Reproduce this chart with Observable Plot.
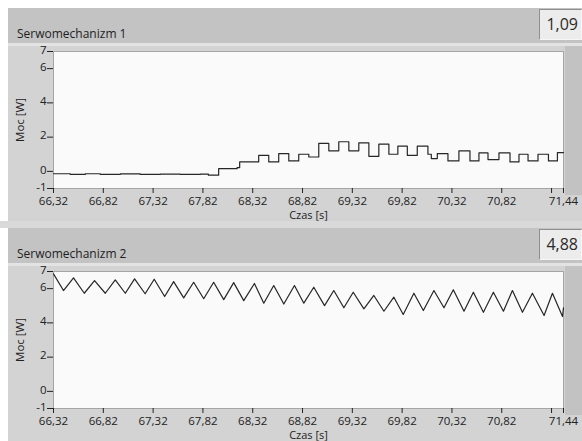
<!DOCTYPE html>
<html>
<head>
<meta charset="utf-8">
<script src="https://cdn.jsdelivr.net/npm/d3@7"></script>
<script src="https://cdn.jsdelivr.net/npm/@observablehq/plot@0.6"></script>
<style>
  html, body { margin: 0; padding: 0; background: #ffffff; }
  body { width: 582px; height: 441px; overflow: hidden; position: relative;
         font-family: "Segoe UI", "Open Sans", "Noto Sans", sans-serif; color: #222; }
  .gap { position: absolute; left: 0; width: 582px; background: #d9d9d9; }
  .panel { position: absolute; left: 8px; width: 574px; background: #d3d3d3; }
  .head { position: relative; height: 35px; background: #c3c3c3; }
  .title { position: absolute; left: 9px; bottom: 1px; font-size: 12px; color: #1e1e1e; }
  .val { position: absolute; right: 0; top: 1px; width: 43px; height: 31px; box-sizing: border-box;
         background: #ececec; border-top: 1px solid #8f8f8f; border-left: 1px solid #8f8f8f;
         border-right: 1px solid #f6f6f6; border-bottom: 1px solid #f6f6f6;
         font-size: 16px; line-height: 29px; text-align: right; padding-right: 3px; color: #2a2a2a; }
  .sep { height: 3px; background: #e3e3e3; }
  .body { position: relative; height: 175px; }
  .rbar { position: absolute; right: 0; top: 0; width: 17px; height: 149px; background: #c2c2c2; }
  .body svg { position: absolute; left: 0; top: 0; overflow: visible; }
</style>
</head>
<body>
<div id="root"></div>
<script>
// Time axis ticks (seconds) and their printed labels (decimal comma)
const xTicks = [66.32, 66.82, 67.32, 67.82, 68.32, 68.82, 69.32, 69.82, 70.32, 70.82, 71.32, 71.44];
const xTickLabels = ["66,32", "66,82", "67,32", "67,82", "68,32", "68,82", "69,32", "69,82", "70,32", "70,82", "", "71,44"];
const yTicks = [-1, 0, 2, 4, 6, 7];
const xDomain = [66.32, 71.44];
const yDomain = [-1, 7];

const panelTitles = ["Serwomechanizm 1", "Serwomechanizm 2"];

// Servo 1 power: stepped samples (value holds until the next time stamp)
const servo1Time = [66.320, 66.488, 66.639, 66.789, 66.991, 67.191, 67.392, 67.593, 67.794, 67.875,
  67.978, 68.163, 68.189, 68.380, 68.481, 68.581, 68.682, 68.782, 68.883, 68.983,
  69.084, 69.184, 69.285, 69.385, 69.486, 69.586, 69.687, 69.777, 69.872, 69.972,
  70.079, 70.113, 70.173, 70.280, 70.390, 70.501, 70.591, 70.682, 70.792, 70.903,
  70.993, 71.084, 71.184, 71.289, 71.379, 71.440];
const servo1Power = [-0.14, -0.18, -0.14, -0.17, -0.15, -0.18, -0.16, -0.18, -0.16, -0.22,
  0.16, 0.22, 0.55, 0.94, 0.55, 1.04, 0.61, 1.00, 0.84, 1.63,
  1.20, 1.73, 1.20, 1.67, 0.88, 1.59, 1.00, 1.47, 0.94, 1.47,
  1.00, 0.75, 1.04, 0.61, 1.20, 0.61, 1.08, 0.69, 1.08, 0.55,
  1.00, 0.61, 1.00, 0.61, 1.09, 1.09];

// Servo 2 power: oscillating signal, peaks and troughs
const servo2Time = [66.320, 66.420, 66.521, 66.629, 66.732, 66.840, 66.940, 67.041, 67.134, 67.240,
  67.331, 67.436, 67.526, 67.627, 67.727, 67.828, 67.928, 68.029, 68.129, 68.230,
  68.337, 68.431, 68.531, 68.632, 68.739, 68.833, 68.933, 69.041, 69.134, 69.235,
  69.329, 69.436, 69.536, 69.637, 69.737, 69.831, 69.938, 70.033, 70.139, 70.240,
  70.334, 70.441, 70.535, 70.636, 70.736, 70.837, 70.927, 71.028, 71.128, 71.245,
  71.329, 71.430, 71.440];
const servo2Power = [6.86, 5.89, 6.63, 5.73, 6.47, 5.73, 6.51, 5.73, 6.57, 5.70,
  6.55, 5.54, 6.41, 5.46, 6.37, 5.41, 6.37, 5.36, 6.35, 5.30,
  6.30, 5.15, 6.18, 5.10, 6.18, 5.15, 6.08, 5.01, 5.89, 4.88,
  5.79, 4.82, 5.60, 4.68, 5.50, 4.49, 5.73, 4.72, 5.89, 4.88,
  5.93, 4.68, 5.79, 4.62, 5.79, 4.68, 5.89, 4.62, 5.73, 4.43,
  5.73, 4.37, 4.88];

const fmtComma = v => v.toFixed(2).replace(".", ",");

function chart(time, power, curve) {
  const rows = time.map((t, i) => ({t, p: power[i]}));
  return Plot.plot({
    width: 574,
    height: 175,
    marginLeft: 45,
    marginRight: 19,
    marginTop: 5,
    marginBottom: 33,
    style: {background: "transparent", fontFamily: "'Segoe UI', 'Open Sans', sans-serif", fontSize: "12px", color: "#222", overflow: "visible"},
    x: {domain: xDomain},
    y: {domain: yDomain},
    marks: [
      Plot.frame({fill: "#fafafa", stroke: "#a5a5a5"}),
      Plot.axisX({
        ticks: xTicks,
        tickFormat: d => xTickLabels[xTicks.indexOf(d)],
        tickSize: 5,
        tickPadding: 3,
        label: null,
        fontSize: 11.5
      }),
      Plot.axisX({
        ticks: [],
        label: "Czas [s]",
        labelAnchor: "center",
        labelArrow: "none",
        labelOffset: 30.5,
        fontSize: 11
      }),
      // y tick marks
      Plot.axisY({ticks: yTicks, tickSize: 6, tickFormat: () => "", label: null}),
      // y tick labels, nudged up a little
      Plot.axisY({
        ticks: yTicks,
        tickFormat: d => String(d),
        tickSize: 0,
        tickPadding: 7,
        label: null,
        dy: -1.5,
        fontSize: 11.5
      }),
      Plot.axisY({
        ticks: [],
        label: "Moc [W]",
        labelAnchor: "center",
        labelArrow: "none",
        labelOffset: 38,
        fontSize: 11.5
      }),
      Plot.line(rows, {x: "t", y: "p", curve, stroke: "#262626", strokeWidth: 1.2})
    ]
  });
}

const root = document.getElementById("root");
const series = [
  {time: servo1Time, power: servo1Power, curve: "step-after", top: 8},
  {time: servo2Time, power: servo2Power, curve: "linear", top: 228}
];

const gap = document.createElement("div");
gap.className = "gap";
gap.style.top = "221px";
gap.style.height = "7px";
root.appendChild(gap);

series.forEach((s, i) => {
  const panel = document.createElement("div");
  panel.className = "panel";
  panel.style.top = s.top + "px";
  const head = document.createElement("div");
  head.className = "head";
  const title = document.createElement("div");
  title.className = "title";
  title.textContent = panelTitles[i];
  const val = document.createElement("div");
  val.className = "val";
  val.textContent = fmtComma(s.power[s.power.length - 1]);
  head.append(title, val);
  const sep = document.createElement("div");
  sep.className = "sep";
  const body = document.createElement("div");
  body.className = "body";
  const rbar = document.createElement("div");
  rbar.className = "rbar";
  body.append(rbar, chart(s.time, s.power, s.curve));
  panel.append(head, sep, body);
  root.appendChild(panel);
});
</script>
</body>
</html>
